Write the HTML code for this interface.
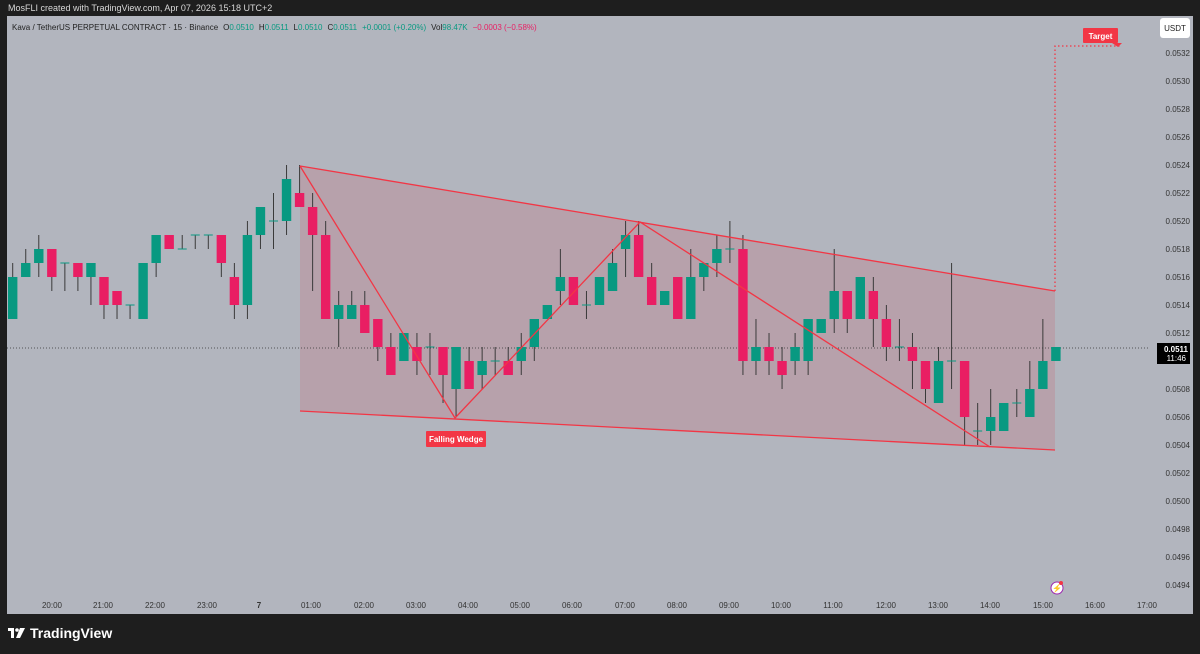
<!DOCTYPE html>
<html><head><meta charset="utf-8"><style>
html,body{margin:0;padding:0;background:#1e1e1e;width:1200px;height:654px;overflow:hidden}
svg{display:block}
text{font-family:"Liberation Sans",sans-serif}
</style></head><body>
<svg id="s" width="1200" height="654" xmlns="http://www.w3.org/2000/svg">
<rect x="0" y="0" width="1200" height="654" fill="#1e1e1e"/>
<text x="8" y="11" font-size="9" fill="#d8d8d8">MosFLI created with TradingView.com, Apr 07, 2026 15:18 UTC+2</text>
<rect x="7" y="16" width="1186" height="598" fill="#b2b5be"/>
<polygon points="300,166 1055,291 1055,450 300,411" fill="#c07a8a" fill-opacity="0.35"/>
<line x1="7" y1="348" x2="1148" y2="348" stroke="#333" stroke-width="0.8" stroke-dasharray="1,2"/>
<g id="c"></g>
<g stroke="#f23645" stroke-width="1.3" fill="none">
<line x1="300" y1="166" x2="1055" y2="291"/>
<line x1="300" y1="411" x2="1055" y2="450"/>
<polyline points="300,166 455,418 640,222 990,447"/>
</g>
<polyline points="1055,291 1055,46 1122,46" fill="none" stroke="#f23645" stroke-width="1.3" stroke-dasharray="1.5,2.5"/>
<rect x="1083" y="28" width="35" height="15" fill="#f23645" rx="1"/>
<polygon points="1112,43 1122,43 1118,47" fill="#f23645"/>
<text x="1100.5" y="39" font-size="8" font-weight="bold" fill="#fff" text-anchor="middle">Target</text>
<rect x="426" y="431" width="60" height="16" fill="#f23645" rx="1"/>
<text x="456" y="442" font-size="8" font-weight="bold" fill="#fff" text-anchor="middle">Falling Wedge</text>
<text x="12" y="30" font-size="8" fill="#222">Kava / TetherUS PERPETUAL CONTRACT · 15 · Binance<tspan dx="5">O</tspan><tspan fill="#089981">0.0510</tspan><tspan dx="5">H</tspan><tspan fill="#089981">0.0511</tspan><tspan dx="5">L</tspan><tspan fill="#089981">0.0510</tspan><tspan dx="5">C</tspan><tspan fill="#089981">0.0511</tspan><tspan dx="5" fill="#089981">+0.0001 (+0.20%)</tspan><tspan dx="5">Vol</tspan><tspan fill="#089981">98.47K</tspan><tspan dx="5" fill="#e91e63">−0.0003 (−0.58%)</tspan></text>
<rect x="1160" y="18" width="30" height="20" rx="3" fill="#fff"/>
<text x="1175" y="31" font-size="8" fill="#222" text-anchor="middle">USDT</text>
<g id="pa" font-size="8" fill="#333" text-anchor="end"></g>
<rect x="1157" y="343" width="33" height="21" fill="#000"/>
<text x="1188" y="352" font-size="8" font-weight="bold" fill="#fff" text-anchor="end">0.0511</text>
<text x="1186" y="361" font-size="8" fill="#fff" text-anchor="end">11:46</text>
<g id="ta" font-size="8" fill="#333" text-anchor="middle">
<text x="52" y="608">20:00</text><text x="103" y="608">21:00</text><text x="155" y="608">22:00</text><text x="207" y="608">23:00</text><text x="259" y="608" font-weight="bold">7</text><text x="311" y="608">01:00</text><text x="364" y="608">02:00</text><text x="416" y="608">03:00</text><text x="468" y="608">04:00</text><text x="520" y="608">05:00</text><text x="572" y="608">06:00</text><text x="625" y="608">07:00</text><text x="677" y="608">08:00</text><text x="729" y="608">09:00</text><text x="781" y="608">10:00</text><text x="833" y="608">11:00</text><text x="886" y="608">12:00</text><text x="938" y="608">13:00</text><text x="990" y="608">14:00</text><text x="1043" y="608">15:00</text><text x="1095" y="608">16:00</text><text x="1147" y="608">17:00</text>
</g>
<circle cx="1057" cy="588" r="6" fill="#fff" stroke="#9c27b0" stroke-width="1"/>
<text x="1057" y="591" font-size="8" fill="#9c27b0" text-anchor="middle">⚡</text>
<circle cx="1061" cy="583" r="2" fill="#f23645"/>
<g transform="translate(8,628)">
<rect x="0" y="0" width="6" height="3" fill="#fff"/><rect x="3" y="0" width="3" height="10" fill="#fff"/>
<circle cx="9" cy="2" r="1.8" fill="#fff"/><polygon points="12,0 17,0 12,10 8,10" fill="#fff"/>
</g>
<text x="30" y="638" font-size="14" font-weight="bold" fill="#fff">TradingView</text>
</svg>
<script>
var d=[[513,517,513,516],[516,518,516,517],[517,519,516,518],[518,518,515,516],[517,517,515,517],[517,517,515,516],[516,517,514,517],[516,516,513,514],[515,515,513,514],[514,514,513,514],[513,517,513,517],[517,519,516,519],[519,519,518,518],[518,519,518,518],[519,519,518,519],[519,519,518,519],[519,519,516,517],[516,517,513,514],[514,520,513,519],[519,521,518,521],[520,522,518,520],[520,524,519,523],[522,524,521,521],[521,522,515,519],[519,520,513,513],[513,515,511,514],[513,515,513,514],[514,515,512,512],[513,513,510,511],[511,512,509,509],[510,512,510,512],[511,512,509,510],[511,512,509,511],[511,511,507,509],[508,511,506,511],[510,511,508,508],[509,511,508,510],[510,511,509,510],[510,511,509,509],[510,512,509,511],[511,513,510,513],[513,514,513,514],[515,518,514,516],[516,516,514,514],[514,515,513,514],[514,516,514,516],[515,518,515,517],[518,520,516,519],[519,520,516,516],[516,517,514,514],[514,515,514,515],[516,516,513,513],[513,518,513,516],[516,517,515,517],[517,519,516,518],[518,520,517,518],[518,519,509,510],[510,513,509,511],[511,512,509,510],[510,511,508,509],[510,512,509,511],[510,513,509,513],[512,513,512,513],[513,518,512,515],[515,515,512,513],[513,516,513,516],[515,516,511,513],[513,514,510,511],[511,513,510,511],[511,512,508,510],[510,510,507,508],[507,511,507,510],[510,517,508,510],[510,510,504,506],[505,507,504,505],[505,508,504,506],[505,507,505,507],[507,508,506,507],[506,510,506,508],[508,513,508,510],[510,511,510,511]];
function y(p){return 53+(532-p)*14;}
var h='';
for(var i=0;i<d.length;i++){var o=d[i][0],hi=d[i][1],lo=d[i][2],c=d[i][3];var x=12.7+13.04*i;var col=c>o?'#089981':(c<o?'#e91e63':'#089981');
h+='<line x1="'+x+'" x2="'+x+'" y1="'+y(hi)+'" y2="'+y(lo)+'" stroke="#3a3a3a" stroke-width="1"/>';
if(o==c){h+='<line x1="'+(x-4.5)+'" x2="'+(x+4.5)+'" y1="'+y(o)+'" y2="'+y(o)+'" stroke="#089981" stroke-width="1"/>';}
else{var t=y(Math.max(o,c)),b=y(Math.min(o,c));h+='<rect x="'+(x-4.7)+'" y="'+t+'" width="9.4" height="'+(b-t)+'" fill="'+col+'"/>';}}
document.getElementById('c').innerHTML=h;
var p='';for(var k=532;k>=494;k-=2){p+='<text x="1190" y="'+(y(k)+3)+'">0.0'+k+'</text>';}
document.getElementById('pa').innerHTML=p;
</script>
</body></html>
